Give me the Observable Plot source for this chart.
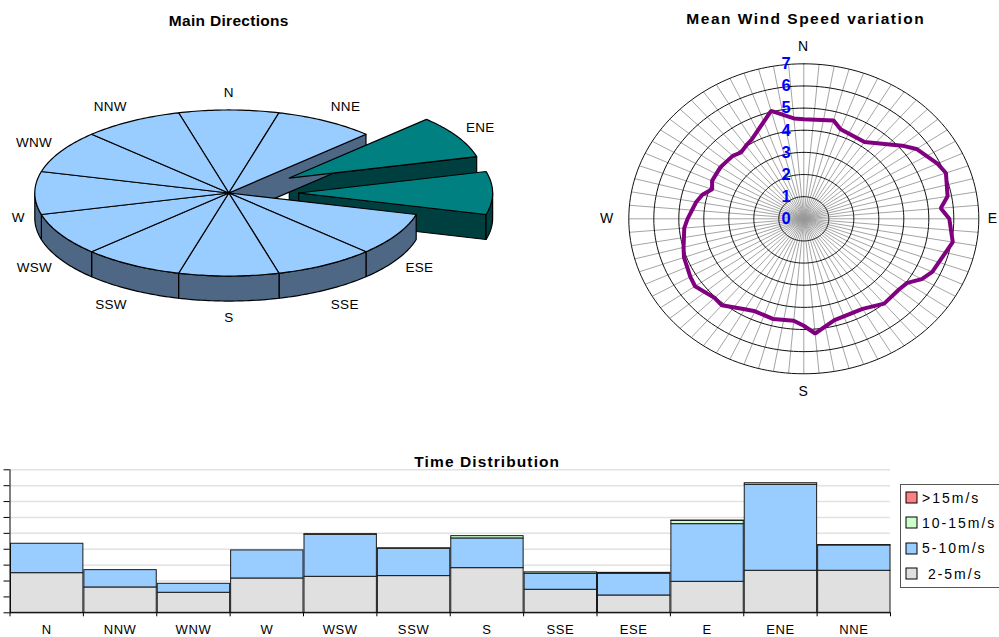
<!DOCTYPE html>
<html>
<head>
<meta charset="utf-8">
<script src="https://cdn.jsdelivr.net/npm/d3@7"></script>
<script src="https://cdn.jsdelivr.net/npm/@observablehq/plot@0.6"></script>
<style>
  html, body { margin: 0; padding: 0; background: #fff; }
  #page { position: relative; width: 999px; height: 637px; overflow: hidden; font-family: "Liberation Sans", Arial, sans-serif; }
  #pie, #radar, #bars, #legend { position: absolute; }
  #pie { left: 0; top: 0; }
  #radar { left: 600px; top: 0; }
  #bars { left: 0; top: 440px; }
  #legend { left: 900px; top: 484px; width: 120px; height: 104px; border: 1px solid #555; box-sizing: border-box; padding: 0 0 0 5px; background: #fff; }
  .wl-swatches { margin: 0; font-family: "Liberation Sans", Arial, sans-serif; font-size: 14px; letter-spacing: 2px; color: #000; }
  .wl-swatch { height: 25.3px; padding: 0; display: flex; align-items: center; }
  .wl-swatch > svg { margin-right: 5px; }
  .wl-swatch > svg > rect { stroke: #000; stroke-width: 1px; }
</style>
</head>
<body>
<div id="page">
  <div id="pie"></div>
  <div id="radar"></div>
  <div id="bars"></div>
  <div id="legend"></div>
</div>
<script>
// ---------------- Data ----------------
// Pie: twelve 30° sectors, clockwise from north
const pieDirections = ["N", "NNE", "ENE", "E", "ESE", "SSE", "S", "SSW", "WSW", "W", "WNW", "NNW"];
const pieSectorWeights = [1, 1, 1, 1, 1, 1, 1, 1, 1, 1, 1, 1];
const pieUnlabeled = ["E"];

// Time distribution (% of time) per direction and speed class
const barDirections = ["N", "NNW", "WNW", "W", "WSW", "SSW", "S", "SSE", "ESE", "E", "ENE", "NNE"];
const speedClasses = ["2-5m/s", "5-10m/s", "10-15m/s", ">15m/s"];
const speedColors = ["#E0E0E0", "#99CCFF", "#CCFFCC", "#FF8080"];
const share2to5   = [4.99, 3.19, 2.52, 4.32, 4.53, 4.62, 5.62, 2.90, 2.18, 3.90, 5.29, 5.29];
const share5to10  = [3.70, 2.18, 1.13, 3.53, 5.29, 3.44, 3.74, 2.01, 2.73, 7.26, 10.82, 3.19];
const share10to15 = [0, 0, 0, 0, 0.08, 0.06, 0.29, 0.18, 0.12, 0.40, 0.20, 0.05];
const shareOver15 = [0, 0, 0, 0, 0, 0, 0, 0, 0, 0.05, 0, 0];
const barTicks = [0, 2, 4, 6, 8, 10, 12, 14, 16, 18];

// Mean wind speed (m/s) by direction (degrees clockwise from north)
const speedDirs = [0, 15, 20, 35, 50, 55, 65, 70, 80, 85, 90, 100, 115, 120, 125, 130, 140, 150, 165, 175,
  180, 185, 195, 205, 210, 220, 225, 235, 240, 250, 255, 265, 270, 280, 285, 290, 295, 305, 315, 320,
  325, 330, 345, 355];
const meanSpeed = [4.50, 4.60, 4.30, 4.24, 5.14, 5.50, 5.90, 6.05, 5.84, 5.50, 5.82, 6.05, 5.67, 5.45, 5.05, 4.97, 5.00, 4.70, 4.74, 5.20,
  4.83, 4.62, 4.69, 4.61, 4.72, 5.10, 5.05, 5.31, 5.24, 5.10, 4.98, 4.80, 4.65, 4.37, 4.20, 3.90, 4.05, 4.07, 4.02, 3.91,
  4.03, 4.15, 5.05, 4.55];
const ringValues = [0, 1, 2, 3, 4, 5, 6, 7];
const compassNames = ["N", "E", "S", "W"];
const compassAngles = [0, 90, 180, 270];

// ---------------- Helpers ----------------
const FONT = "Liberation Sans, Arial, sans-serif";
const rad = (deg) => deg * Math.PI / 180;
const seriesByClass = [share2to5, share5to10, share10to15, shareOver15];
const totals = barDirections.map((_, i) => d3.sum(seriesByClass, (s) => s[i]));
// the two directions with the most time are highlighted in the pie
const mainDirections = d3.sort(barDirections.map((d, i) => ({d, t: totals[i]})), (a) => -a.t).slice(0, 2).map((a) => a.d);

// ---------------- 3D pie ----------------
{
  const W = 600, H = 340, CX = 228.3, CY = 192.5, R = 194; // R: pixels per pie radius
  const TILT = 0.428, DEPTH = 0.129, EXPLODE = 0.36;
  const TOP = "#99CCFF", SIDE = "#4D6785", MAIN_TOP = "#008080", MAIN_SIDE = "#003F40";
  const n = pieDirections.length;
  const totalW = d3.sum(pieSectorWeights);
  let acc = -pieSectorWeights[0] / totalW * 180;
  const slices = pieDirections.map((name, i) => {
    const span = pieSectorWeights[i] / totalW * 360;
    const a0 = acc, a1 = acc + span; acc = a1;
    const mid = (a0 + a1) / 2;
    const main = mainDirections.includes(name);
    const e = main ? EXPLODE : 0;
    return {name, a0, a1, mid, main, ox: e * Math.sin(rad(mid)), oy: e * TILT * Math.cos(rad(mid))};
  });
  const point = (s, deg, r, lowered) => ({
    x: s.ox + r * Math.sin(rad(deg)),
    y: s.oy + TILT * r * Math.cos(rad(deg)) - (lowered ? DEPTH : 0)
  });
  const arc = (s, a0, a1, lowered) => {
    const k = Math.max(2, Math.ceil(Math.abs(a1 - a0)));
    return d3.range(k + 1).map((j) => point(s, a0 + (a1 - a0) * j / k, 1, lowered));
  };
  const walls = (s, i) => {
    const out = [];
    const next = slices[(i + 1) % n], prev = slices[(i + n - 1) % n];
    const apexTop = {x: s.ox, y: s.oy}, apexLow = {x: s.ox, y: s.oy - DEPTH};
    const cut = (deg) => [apexTop, point(s, deg, 1, false), point(s, deg, 1, true), apexLow];
    const moved = (o) => o.ox !== s.ox || o.oy !== s.oy;
    if (moved(next) && Math.sin(rad(s.a1)) > 0) out.push(cut(s.a1));
    if (moved(prev) && Math.sin(rad(s.a0)) < 0) out.push(cut(s.a0));
    const lo = Math.max(s.a0, 90), hi = Math.min(s.a1, 270);
    if (lo < hi) out.push([...arc(s, lo, hi, false), ...arc(s, hi, lo, true)]);
    return out;
  };
  const rows = [];
  let id = 0;
  const addPoly = (pts, fill) => { id++; [...pts, pts[0]].forEach((p) => rows.push({id, fill, x: p.x, y: p.y})); };
  // back to front: walls of pulled-out slices, walls of the body, then all top faces
  d3.sort(slices.filter((s) => s.main), (s) => -Math.cos(rad(s.mid)))
    .forEach((s) => walls(s, slices.indexOf(s)).forEach((p) => addPoly(p, MAIN_SIDE)));
  slices.forEach((s, i) => { if (!s.main) walls(s, i).forEach((p) => addPoly(p, SIDE)); });
  slices.forEach((s) => addPoly([{x: s.ox, y: s.oy}, ...arc(s, s.a0, s.a1, false)], s.main ? MAIN_TOP : TOP));

  const LDX = 10 / R, LDY = 17 / R;
  const labels = slices.filter((s) => !pieUnlabeled.includes(s.name)).map((s) => {
    const c = Math.cos(rad(s.mid)), sn = Math.sin(rad(s.mid));
    const p = point(s, s.mid, 1, c < 0.01);
    return {name: s.name, x: p.x + LDX * sn, y: p.y + LDY * c, anchor: sn > 0.2 ? "start" : sn < -0.2 ? "end" : "middle"};
  });

  const chart = Plot.plot({
    width: W, height: H, margin: 0,
    x: {domain: [-CX / R, (W - CX) / R], range: [0, W], axis: null},
    y: {domain: [-(H - CY) / R, CY / R], range: [H, 0], axis: null},
    color: {type: "identity"},
    style: {fontFamily: FONT, fontSize: "13.5px", letterSpacing: "0.3px", background: "transparent"},
    marks: [
      Plot.line(rows, {x: "x", y: "y", z: "id", fill: "fill", stroke: "#000", strokeWidth: 1.2, strokeLinejoin: "round", curve: "linear"}),
      ...["start", "middle", "end"].map((a) =>
        Plot.text(labels.filter((l) => l.anchor === a), {x: "x", y: "y", text: "name", textAnchor: a, fill: "#000"})),
      Plot.text(["Main Directions"], {x: 0, frameAnchor: "top", lineAnchor: "middle", dy: 21, fontWeight: "bold", fontSize: 15.5, fill: "#000"})
    ]
  });
  document.getElementById("pie").append(chart);
}

// ---------------- Radar of mean speed ----------------
{
  const W = 399, H = 420, CX = 203.3, CY = 218.3, KX = 25, KY = 22.14; // pixels per m/s
  const RMAX = d3.max(ringValues);
  const spokes = d3.range(0, 360, 5);
  const rings = ringValues.filter((v) => v > 0).flatMap((v) =>
    d3.range(0, 361, 2).map((a) => ({ring: v, x: v * Math.sin(rad(a)), y: v * Math.cos(rad(a))})));
  const speedPts = speedDirs.map((a, i) => ({x: meanSpeed[i] * Math.sin(rad(a)), y: meanSpeed[i] * Math.cos(rad(a))}));
  const compass = compassNames.map((name, i) => ({name, a: compassAngles[i]}));
  const compassMark = (filter, anchor, pad) =>
    Plot.text(compass.filter(filter), {
      x: (d) => Math.sin(rad(d.a)) * (RMAX + pad / KX),
      y: (d) => Math.cos(rad(d.a)) * (RMAX + pad / KY),
      text: "name", textAnchor: anchor, fill: "#000", fontSize: 14
    });

  const chart = Plot.plot({
    width: W, height: H, margin: 0,
    x: {domain: [-CX / KX, (W - CX) / KX], range: [0, W], axis: null},
    y: {domain: [-(H - CY) / KY, CY / KY], range: [H, 0], axis: null},
    style: {fontFamily: FONT, fontSize: "14px", letterSpacing: "1.5px", background: "transparent"},
    marks: [
      Plot.link(spokes, {x1: 0, y1: 0, x2: (a) => RMAX * Math.sin(rad(a)), y2: (a) => RMAX * Math.cos(rad(a)), stroke: "#9a9a9a", strokeWidth: 0.9}),
      Plot.line(rings, {x: "x", y: "y", z: "ring", stroke: "#111", strokeWidth: 1}),
      Plot.line(speedPts, {x: "x", y: "y", curve: "linear-closed", stroke: "#800080", strokeWidth: 4, strokeLinejoin: "miter"}),
      Plot.text(ringValues, {x: 0, y: (d) => d, text: (d) => String(d), dx: -17, fill: "#0000FF", fontWeight: "bold", fontSize: 16.5}),
      compassMark((d) => Math.abs(Math.sin(rad(d.a))) < 0.5, "middle", 17.5),
      compassMark((d) => Math.sin(rad(d.a)) >= 0.5, "start", 9),
      compassMark((d) => Math.sin(rad(d.a)) <= -0.5, "end", 14),
      Plot.text(["Mean Wind Speed variation"], {x: 0, frameAnchor: "top", lineAnchor: "middle", dy: 19, dx: 2, fontWeight: "bold", fontSize: 15.5, fill: "#000"})
    ]
  });
  document.getElementById("radar").append(chart);
}

// ---------------- Stacked time distribution ----------------
{
  const rows = barDirections.flatMap((dir, i) =>
    speedClasses.map((cls, k) => ({i, dir, cls, value: seriesByClass[k][i], color: speedColors[k]})))
    .filter((d) => d.value > 0);
  const chart = Plot.plot({
    width: 999, height: 197,
    marginLeft: 9.5, marginRight: 109, marginTop: 29.3, marginBottom: 24.7,
    x: {type: "linear", domain: [0, barDirections.length]},
    y: {domain: [0, d3.max(barTicks)]},
    color: {type: "identity"},
    style: {fontFamily: FONT, fontSize: "13px", background: "transparent"},
    marks: [
      Plot.gridY(barTicks.filter((t) => t > 0), {stroke: "#e2e2e2", strokeOpacity: 1, strokeWidth: 1.5}),
      Plot.rectY(rows, {x: "i", interval: 1, y: "value", fill: "color", stroke: "#1a1a1a", strokeWidth: 1}),
      Plot.axisY(barTicks, {tickSize: 6, tickFormat: () => "", stroke: "#000", label: null}),
      Plot.ruleX([0], {y1: 0, y2: d3.max(barTicks), stroke: "#000"}),
      Plot.ruleY([0], {stroke: "#000"}),
      Plot.axisX(d3.range(0, barDirections.length + 1), {tickSize: 4, tickFormat: () => "", stroke: "#000", label: null}),
      Plot.axisX(barDirections.map((_, i) => i + 0.5), {tickSize: 0, tickPadding: 12.3, tickFormat: (v) => barDirections[Math.floor(v)], fill: "#000", label: null}),
      Plot.text(["Time Distribution"], {frameAnchor: "top", lineAnchor: "middle", dy: -8, dx: 37, fontWeight: "bold", fontSize: 15.5, fill: "#000"})
    ]
  });
  d3.select(chart).selectAll('g[aria-label="text"] text').style("letter-spacing", "1.1px");
  d3.select(chart).selectAll('g[aria-label="x-axis tick label"] text').style("letter-spacing", "0.6px");
  document.getElementById("bars").append(chart);

  const legendOrder = [...speedClasses].reverse();
  const legend = Plot.legend({
    legend: "swatches",
    color: {type: "ordinal", domain: legendOrder, range: legendOrder.map((c) => speedColors[speedClasses.indexOf(c)])},
    columns: 1, swatchSize: 11, className: "wl",
    tickFormat: (c) => (c === "2-5m/s" ? "\u00a0" + c : c)
  });
  document.getElementById("legend").append(legend);
}
</script>
</body>
</html>
